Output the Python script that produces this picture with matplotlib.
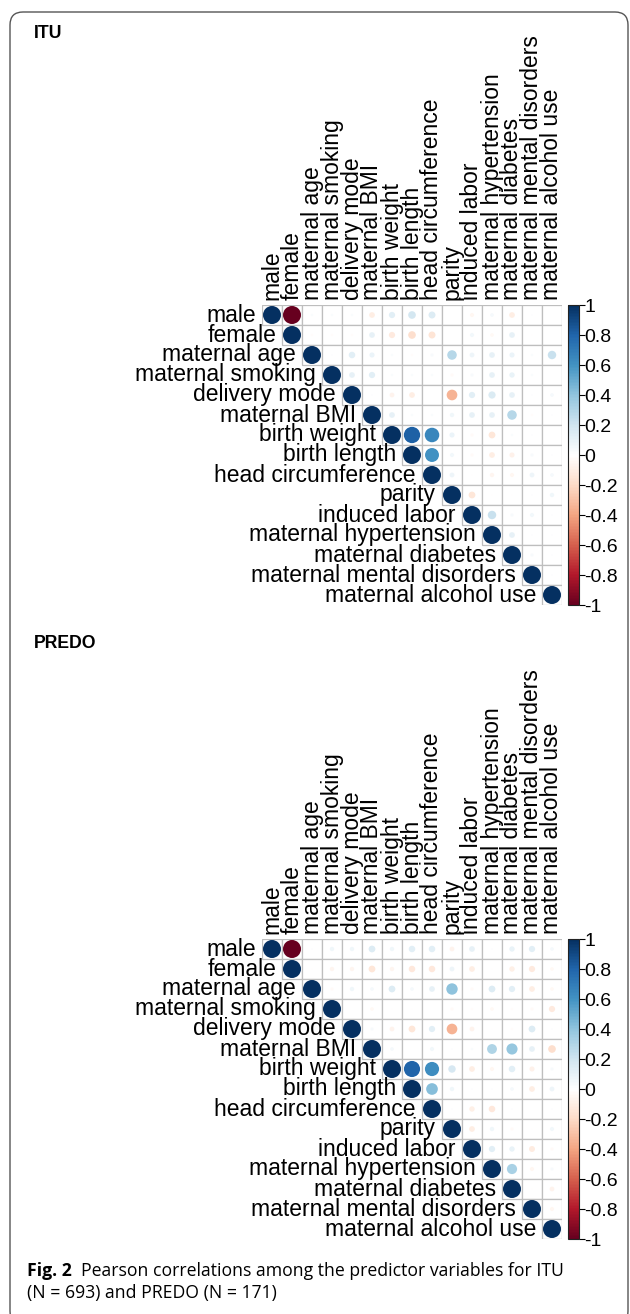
import numpy as np
import matplotlib
matplotlib.use("Agg")
import matplotlib.pyplot as plt
from matplotlib.colors import LinearSegmentedColormap, Normalize
from matplotlib.patches import Rectangle, Circle, FancyBboxPatch
from matplotlib.transforms import IdentityTransform
import matplotlib.cm as cm

# ---------------- data ----------------
variables = ["male", "female", "maternal age", "maternal smoking", "delivery mode",
             "maternal BMI", "birth weight", "birth length", "head circumference",
             "parity", "induced labor", "maternal hypertension", "maternal diabetes",
             "maternal mental disorders", "maternal alcohol use"]

# upper triangle rows (from diagonal to the right)
itu_rows = [
    [1, -1, 0.02, 0.02, 0.02, -0.10, 0.12, 0.18, 0.15, 0.00, -0.05, 0.04, -0.10, 0.01, 0.00],
    [1, -0.02, -0.02, -0.02, 0.10, -0.12, -0.18, -0.15, 0.00, 0.05, -0.04, 0.10, -0.01, 0.00],
    [1, 0.01, 0.13, 0.08, 0.02, -0.02, 0.03, 0.28, 0.07, 0.10, 0.08, 0.02, 0.22],
    [1, 0.10, 0.12, 0.02, 0.02, 0.02, -0.03, 0.03, 0.10, 0.09, 0.02, 0.00],
    [1, 0.01, -0.07, -0.10, 0.00, -0.35, 0.12, 0.16, 0.10, 0.01, 0.04],
    [1, 0.10, 0.02, 0.02, 0.06, 0.10, 0.10, 0.28, -0.02, 0.01],
    [1, 0.82, 0.65, 0.08, -0.03, -0.14, 0.02, 0.01, 0.00],
    [1, 0.60, 0.05, -0.03, -0.10, -0.08, 0.03, 0.01],
    [1, 0.07, -0.01, -0.06, -0.05, 0.07, 0.04],
    [1, -0.14, -0.01, -0.01, 0.01, 0.06],
    [1, 0.22, 0.03, 0.05, 0.01],
    [1, 0.10, 0.01, 0.01],
    [1, 0.03, 0.01],
    [1, 0.01],
    [1],
]

predo_rows = [
    [1, -1, 0.01, 0.06, 0.06, 0.14, 0.06, 0.13, 0.13, -0.07, 0.10, 0.01, 0.09, 0.12, 0.04],
    [1, -0.01, -0.06, -0.06, -0.14, -0.06, -0.13, -0.13, 0.07, -0.10, -0.01, -0.09, -0.12, -0.04],
    [1, -0.03, 0.06, 0.04, 0.14, 0.04, 0.10, 0.40, -0.03, 0.14, 0.12, -0.10, -0.04],
    [1, 0.00, -0.04, -0.01, -0.01, 0.00, -0.03, -0.02, -0.04, -0.02, -0.03, -0.12],
    [1, 0.03, -0.07, -0.14, 0.12, -0.35, -0.07, -0.01, -0.02, 0.14, 0.01],
    [1, 0.04, 0.00, 0.05, 0.01, 0.02, 0.30, 0.38, 0.10, -0.18],
    [1, 0.80, 0.62, 0.17, -0.10, -0.05, 0.13, -0.08, 0.03],
    [1, 0.42, 0.06, 0.01, 0.01, 0.04, -0.10, 0.07],
    [1, 0.01, -0.09, -0.13, 0.01, 0.00, 0.01],
    [1, -0.10, 0.06, -0.03, -0.01, 0.05],
    [1, 0.12, 0.09, -0.11, -0.03],
    [1, 0.32, -0.05, 0.03],
    [1, -0.01, -0.07],
    [1, -0.05],
    [1],
]

cbar_ticks = [1, 0.8, 0.6, 0.4, 0.2, 0, -0.2, -0.4, -0.6, -0.8, -1]
cbar_labels = ["1", "0.8", "0.6", "0.4", "0.2", "0", "-0.2", "-0.4", "-0.6", "-0.8", "-1"]

panel_titles = ["ITU", "PREDO"]
caption_bold = "Fig. 2"
caption_line1 = "Pearson correlations among the predictor variables for ITU"
caption_line2 = "(N = 693) and PREDO (N = 171)"

# ---------------- style ----------------
W, H = 630, 1314
cmap = LinearSegmentedColormap.from_list(
    "corrRdBu",
    ["#67001F", "#B2182B", "#D6604D", "#F4A582", "#FDDBC7", "#FFFFFF",
     "#D1E5F0", "#92C5DE", "#4393C3", "#2166AC", "#053061"], N=200)
norm = Normalize(-1, 1)
LAB_FONT = "Liberation Sans"
LAB_SIZE = 16.5

fig = plt.figure(figsize=(W / 100, H / 100), dpi=100)
fig.patch.set_facecolor("white")


def ax_px(x0, y0, w, h):
    return fig.add_axes([x0 / W, 1 - (y0 + h) / H, w / W, h / H])


def draw_matrix(rows, gx, gy, cell=20):
    n = len(variables)
    ax = ax_px(gx, gy, cell * n, cell * n)
    ax.set_xlim(0, n)
    ax.set_ylim(n, 0)
    ax.axis("off")
    for i, row in enumerate(rows):
        for k, r in enumerate(row):
            j = i + k
            ax.add_patch(Rectangle((j, i), 1, 1, facecolor="white",
                                   edgecolor="#BEBEBE", lw=0.9, zorder=1))
            rad = 0.45 * np.sqrt(abs(r))
            if rad > 0:
                ax.add_patch(Circle((j + 0.5, i + 0.5), rad,
                                    facecolor=cmap(norm(r)), edgecolor="none",
                                    zorder=2))
    for i, name in enumerate(variables):
        ax.text(i - 0.3, i + 0.5, name, ha="right", va="center",
                fontsize=LAB_SIZE, family=LAB_FONT, color="black")
        ax.text(i + 0.5, -0.25, name, ha="center", va="bottom", rotation=90,
                fontsize=LAB_SIZE, family=LAB_FONT, color="black")
    # colour legend
    cax = ax_px(gx + cell * n + 6, gy, 11, cell * n)
    sm = cm.ScalarMappable(norm=norm, cmap=cmap)
    cb = fig.colorbar(sm, cax=cax)
    cb.outline.set_linewidth(0.8)
    cb.outline.set_edgecolor("#222222")
    cb.set_ticks(cbar_ticks)
    cb.set_ticklabels(cbar_labels)
    cax.tick_params(length=4, width=0.8, pad=0, labelsize=14)
    for t in cax.get_yticklabels():
        t.set_family(LAB_FONT)
    return ax


draw_matrix(itu_rows, 262, 305)
draw_matrix(predo_rows, 262, 939)

fig.text(34 / W, 1 - 34 / H, panel_titles[0], fontsize=12.7, weight="bold",
         family=LAB_FONT, va="center", ha="left")
fig.text(34 / W, 1 - 644 / H, panel_titles[1], fontsize=12.7, weight="bold",
         family=LAB_FONT, va="center", ha="left")

# caption
CAP_FONT = "Open Sans"
cap_size = 12.7
cx = 27
t_bold = fig.text(cx / W, 1 - 1276 / H, caption_bold, fontsize=cap_size,
                  weight="bold", family=CAP_FONT, va="baseline", ha="left")
renderer = fig.canvas.get_renderer()
bb = t_bold.get_window_extent(renderer)
fig.text((bb.x1 + 9) / W, 1 - 1276 / H, caption_line1, fontsize=cap_size,
         family=CAP_FONT, va="baseline", ha="left")
fig.text(cx / W, 1 - 1298 / H, caption_line2, fontsize=cap_size,
         family=CAP_FONT, va="baseline", ha="left")

# rounded frame (bottom edge runs off the figure)
frame = FancyBboxPatch((10, -10), 618, H - 12 + 10,
                       boxstyle="round,pad=0,rounding_size=13",
                       transform=IdentityTransform(), facecolor="none",
                       edgecolor="#555555", lw=1.0)
fig.add_artist(frame)

fig.savefig("out.png", dpi=100, facecolor="white")
